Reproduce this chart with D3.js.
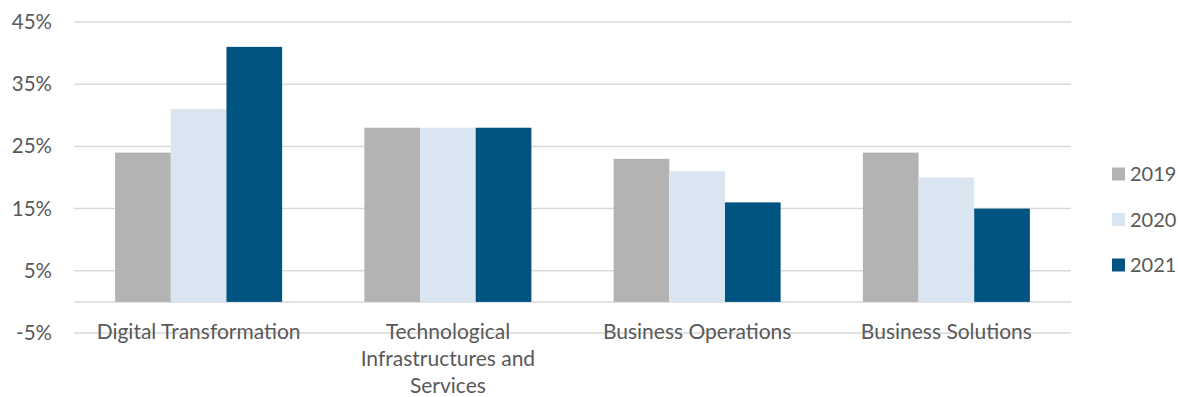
<!DOCTYPE html>
<html>
<head>
<meta charset="utf-8">
<script src="https://cdn.jsdelivr.net/npm/d3@7"></script>
<style>
  html, body { margin: 0; padding: 0; background: #ffffff; }
  svg { display: block; }
  text { font-family: Lato, "Noto Sans", sans-serif; fill: #595959; }
</style>
</head>
<body>
<svg id="chart" width="1178" height="397"></svg>
<script>
// Share of projects by area, per year
const categories = [
  ["Digital Transformation"],
  ["Technological", "Infrastructures and", "Services"],
  ["Business Operations"],
  ["Business Solutions"]
];
const years = ["2019", "2020", "2021"];
const values2019 = [24, 28, 23, 24];
const values2020 = [31, 28, 21, 20];
const values2021 = [41, 28, 16, 15];
const tickValues = [-5, 5, 15, 25, 35, 45];
const colors = ["#b3b3b3", "#d9e6f1", "#015482"];

const series = [values2019, values2020, values2021];
const svg = d3.select("#chart");

const plotLeft = 74, plotRight = 1071, plotTop = 22, plotBottom = 333;

const catKeys = categories.map((c, i) => i);
const x = d3.scaleBand().domain(catKeys).range([plotLeft, plotRight]).paddingInner(0.33).paddingOuter(0.165);
const xs = d3.scaleBand().domain(years).range([0, x.bandwidth()]);
const y = d3.scaleLinear().domain([-5, 45]).range([plotBottom, plotTop]);

// gridlines
svg.append("g")
  .selectAll("line")
  .data(tickValues.concat([0]))
  .join("line")
  .attr("x1", plotLeft).attr("x2", plotRight)
  .attr("y1", d => y(d)).attr("y2", d => y(d))
  .attr("stroke", "#d9d9d9")
  .attr("stroke-width", 1.5);

// y axis labels
const yAxis = d3.axisLeft(y).tickValues(tickValues).tickSize(0).tickPadding(0)
  .tickFormat(d => d + "%");
const yg = svg.append("g").attr("transform", `translate(${plotLeft - 22},0)`).call(yAxis);
yg.select(".domain").remove();
yg.selectAll("text").attr("font-size", 20.5).style("font-family", "Lato, 'Noto Sans', sans-serif").attr("fill", "#595959");

// bars
years.forEach((yr, si) => {
  svg.append("g")
    .selectAll("rect")
    .data(series[si])
    .join("rect")
    .attr("x", (d, i) => x(i) + xs(yr))
    .attr("width", xs.bandwidth())
    .attr("y", d => y(Math.max(0, d)))
    .attr("height", d => Math.abs(y(d) - y(0)))
    .attr("fill", colors[si]);
});

// category labels
const lab = svg.append("g");
categories.forEach((lines, i) => {
  const t = lab.append("text")
    .attr("text-anchor", "middle")
    .attr("font-size", 21)
    .attr("x", x(i) + x.bandwidth() / 2)
    .attr("y", 339);
  lines.forEach((ln, j) => {
    t.append("tspan")
      .attr("x", x(i) + x.bandwidth() / 2)
      .attr("dy", j === 0 ? 0 : 27)
      .text(ln);
  });
});

// legend
const leg = svg.append("g");
const legY = [174, 219.5, 265];
years.forEach((yr, i) => {
  leg.append("rect")
    .attr("x", 1112).attr("y", legY[i] - 6.5)
    .attr("width", 13).attr("height", 13)
    .attr("fill", colors[i]);
  leg.append("text")
    .attr("x", 1130).attr("y", legY[i] + 7)
    .attr("font-size", 20)
    .text(yr);
});
</script>
</body>
</html>
